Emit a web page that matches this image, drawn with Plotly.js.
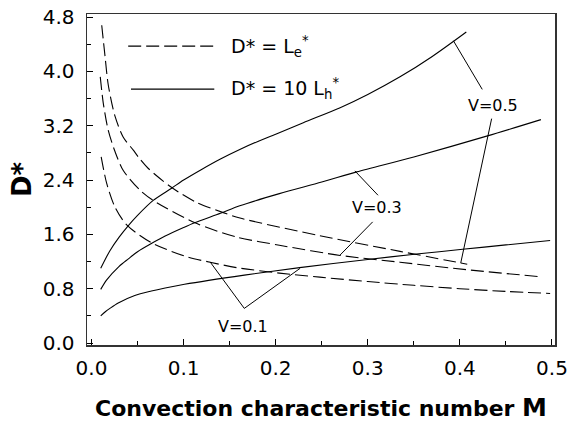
<!DOCTYPE html>
<html>
<head>
<meta charset="utf-8">
<script src="https://cdn.plot.ly/plotly-3.0.1.min.js"></script>
<style>html,body{margin:0;padding:0;background:#fff;} #chart{width:572px;height:430px;}</style>
</head>
<body>
<div id="chart"></div>
<script>
// ---- Data ----
// D* = 10 Lh* (solid curves)
var solidV05_x = [0.01, 0.02, 0.03, 0.04, 0.05, 0.067, 0.087, 0.10, 0.12, 0.14, 0.161, 0.18, 0.20, 0.23, 0.27, 0.30, 0.335, 0.37, 0.407];
var solidV05_y = [1.10, 1.36, 1.56, 1.73, 1.88, 2.10, 2.28, 2.40, 2.56, 2.71, 2.85, 2.965, 3.075, 3.245, 3.465, 3.66, 3.92, 4.22, 4.58];

var solidV03_x = [0.01, 0.0165, 0.03, 0.04, 0.05, 0.065, 0.08, 0.10, 0.112, 0.14, 0.161, 0.204, 0.25, 0.288, 0.35, 0.43, 0.488];
var solidV03_y = [0.79, 0.93, 1.13, 1.24, 1.345, 1.465, 1.575, 1.70, 1.77, 1.91, 2.02, 2.20, 2.37, 2.52, 2.74, 3.05, 3.29];

var solidV01_x = [0.01, 0.015, 0.02, 0.029, 0.047, 0.065, 0.08, 0.101, 0.166, 0.226, 0.30, 0.353, 0.403, 0.45, 0.498];
var solidV01_y = [0.40, 0.46, 0.51, 0.59, 0.70, 0.765, 0.81, 0.865, 1.00, 1.11, 1.23, 1.31, 1.38, 1.445, 1.51];

// D* = Le* (dashed curves)
var dashV05_x = [0.0111, 0.0147, 0.0182, 0.0255, 0.0345, 0.0454, 0.0508, 0.0617, 0.0871, 0.1142, 0.1431, 0.1612, 0.248, 0.335, 0.408];
var dashV05_y = [4.68, 4.22, 3.80, 3.34, 3.03, 2.84, 2.74, 2.57, 2.29, 2.07, 1.92, 1.84, 1.58, 1.35, 1.16];

var dashV03_x = [0.0095, 0.0128, 0.0182, 0.0255, 0.0345, 0.0527, 0.067, 0.1124, 0.1577, 0.204, 0.27, 0.335, 0.407, 0.489];
var dashV03_y = [3.92, 3.53, 3.13, 2.82, 2.54, 2.25, 2.10, 1.77, 1.56, 1.44, 1.29, 1.19, 1.08, 0.975];

var dashV01_x = [0.0105, 0.0165, 0.0255, 0.0382, 0.0654, 0.1034, 0.1287, 0.1577, 0.204, 0.248, 0.30, 0.35, 0.40, 0.45, 0.498];
var dashV01_y = [2.74, 2.35, 2.00, 1.74, 1.475, 1.27, 1.19, 1.11, 1.03, 0.97, 0.905, 0.85, 0.80, 0.76, 0.73];

// Tick labels / text
var xTickVals = [0.0, 0.1, 0.2, 0.3, 0.4, 0.5];
var yTickVals = [0.0, 0.8, 1.6, 2.4, 3.2, 4.0, 4.8];
var legendLabels = ["D* = L<sub>e</sub><sup>*</sup>", "D* = 10 L<sub>h</sub><sup>*</sup>"];
var vLabels = ["V=0.5", "V=0.3", "V=0.1"];
var vLabelX = [0.436, 0.310, 0.164];
var vLabelY = [3.50, 2.00, 0.243];

// ---- Plot ----
var lineBase = {color: '#000', width: 1.1, shape: 'spline', smoothing: 0.8};
function tr(x, y, dash) {
  return {x: x, y: y, mode: 'lines', type: 'scatter', showlegend: false, hoverinfo: 'skip',
          line: Object.assign({}, lineBase, {dash: dash})};
}
var DASH = '13px,5px';
var data = [
  tr(solidV05_x, solidV05_y, 'solid'),
  tr(solidV03_x, solidV03_y, 'solid'),
  tr(solidV01_x, solidV01_y, 'solid'),
  tr(dashV05_x, dashV05_y, DASH),
  tr(dashV03_x, dashV03_y, DASH),
  tr(dashV01_x, dashV01_y, DASH)
];

var FONT = 'DejaVu Sans, Arial, sans-serif';
var leader = {color: '#000', width: 1};
function seg(x0, y0, x1, y1) {
  return {type: 'line', xref: 'x', yref: 'y', x0: x0, y0: y0, x1: x1, y1: y1, line: leader};
}

var shapes = [
  // legend samples
  {type: 'line', xref: 'paper', yref: 'paper', x0: 0.088, x1: 0.270, y0: 0.903, y1: 0.903,
   line: {color: '#000', width: 1.1, dash: DASH}},
  {type: 'line', xref: 'paper', yref: 'paper', x0: 0.094, x1: 0.272, y0: 0.773, y1: 0.773,
   line: {color: '#000', width: 1.1}},
  // leader lines V=0.5
  seg(0.3930, 4.45, 0.4243, 3.735),
  seg(0.4345, 3.304, 0.4009, 1.176),
  // V=0.3
  seg(0.2860, 2.535, 0.3111, 2.176),
  seg(0.3053, 1.784, 0.2698, 1.294),
  // V=0.1
  seg(0.1287, 1.196, 0.1659, 0.510),
  seg(0.1659, 0.510, 0.2264, 1.099)
];

var annotations = [
  {xref: 'paper', yref: 'paper', x: 0.3034, y: 0.902, xanchor: 'left', yanchor: 'middle',
   text: legendLabels[0], showarrow: false, font: {family: FONT, size: 19, color: '#000'}},
  {xref: 'paper', yref: 'paper', x: 0.3034, y: 0.774, xanchor: 'left', yanchor: 'middle',
   text: legendLabels[1], showarrow: false, font: {family: FONT, size: 19, color: '#000'}}
];
for (var i = 0; i < vLabels.length; i++) {
  annotations.push({xref: 'x', yref: 'y', x: vLabelX[i], y: vLabelY[i], text: vLabels[i],
    showarrow: false, xanchor: 'center', yanchor: 'middle',
    font: {family: FONT, size: 16, color: '#000'}});
}

var layout = {
  width: 572, height: 430,
  margin: {l: 87, r: 17, t: 14, b: 85},
  paper_bgcolor: '#fff', plot_bgcolor: '#fff',
  showlegend: false,
  font: {family: FONT, color: '#000'},
  xaxis: {
    range: [-0.0049, 0.5033], tickvals: xTickVals, tickformat: '.1f',
    ticks: 'inside', ticklen: 6, tickwidth: 1, tickcolor: '#000',
    minor: {dtick: 0.05, tick0: 0, ticks: 'inside', ticklen: 4, tickcolor: '#000'},
    showline: true, linecolor: '#333', linewidth: 1.5, mirror: true,
    showgrid: false, zeroline: false,
    tickfont: {family: FONT, size: 20, color: '#000'},
    ticklabelstandoff: 4,
    title: {text: 'Convection characteristic number <span style="font-size:25px">M</span>',
            font: {family: 'DejaVu Sans, Arial, sans-serif', size: 22, color: '#000', weight: 'bold'},
            standoff: 22}
  },
  yaxis: {
    range: [-0.029, 4.845], tickvals: yTickVals, tickformat: '.1f',
    ticks: 'inside', ticklen: 6, tickwidth: 1, tickcolor: '#000',
    minor: {dtick: 0.4, tick0: 0, ticks: 'inside', ticklen: 4, tickcolor: '#000'},
    showline: true, linecolor: '#333', linewidth: 1.5, mirror: true,
    showgrid: false, zeroline: false,
    tickfont: {family: FONT, size: 20, color: '#000'},
    ticklabelstandoff: 7,
    title: {text: 'D*', font: {family: FONT, size: 26, color: '#000', weight: 'bold'}, standoff: 3}
  },
  shapes: shapes,
  annotations: annotations
};

Plotly.newPlot('chart', data, layout, {staticPlot: true, displayModeBar: false});
</script>
</body>
</html>
